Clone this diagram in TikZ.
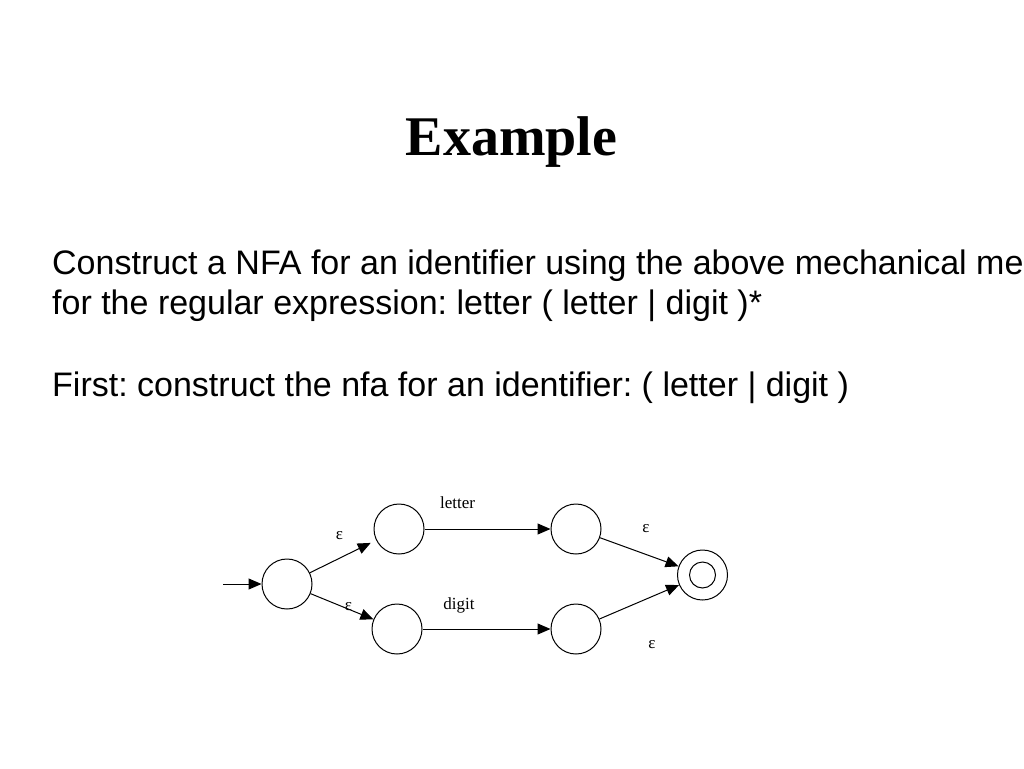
\documentclass[tikz,border=0pt]{standalone}
\usepackage{fontspec}
\setmainfont{Liberation Serif}
\newfontfamily\arialfont{Liberation Sans}
\usetikzlibrary{arrows.meta}
\frenchspacing
\begin{document}
\begin{tikzpicture}[x=1pt,y=-1pt,
  state/.style={circle,draw,line width=1pt,minimum size=50pt,inner sep=0pt},
  edge/.style={-{Triangle[length=13pt,width=11pt]},line width=1pt},
  lbl/.style={font=\fontsize{17}{17}\selectfont,inner sep=0pt},
  body/.style={font=\arialfont\fontsize{34}{40}\selectfont,anchor=base west,inner sep=0pt}]
\useasboundingbox (0,0) rectangle (1024,768);
\clip (0,0) rectangle (1024,768);
\fill[white] (0,0) rectangle (1024,768);
\node[font=\bfseries\fontsize{56}{60}\selectfont,anchor=base,inner sep=0pt] (title) at (511.5,155) {Example};
\node[body] (l1) at (52,274) {Construct a NFA for an identifier using the above mechanical me};
\node[body] (l2) at (52,314) {for the regular expression: letter ( letter | digit )*};
\node[body] (l3) at (52,396) {First: construct the nfa for an identifier: ( letter | digit )};
% states
\node[state] (s0) at (287,584) {};
\node[state] (u1) at (399,529) {};
\node[state] (u2) at (576,529) {};
\node[state] (d1) at (397,629) {};
\node[state] (d2) at (576,629) {};
\node[state] (f) at (702.5,575) {};
\draw[line width=1pt] (f.center) circle (13);
\coordinate (init) at (223,584);
% edges
\draw[edge] (init) -- (s0);
\draw[edge,shorten >=6pt] (s0) -- (u1);
\draw[edge] (s0) -- (d1);
\draw[edge] (u1) -- (u2);
\draw[edge] (d1) -- (d2);
\draw[edge] (u2) -- (f);
\draw[edge] (d2) -- (f);
% labels
\node[lbl] (la) at (457.6,503) {letter};
\node[lbl] (lb) at (459,605) {digit};
\node[lbl] (e1) at (339.5,536) {ε};
\node[lbl] (e2) at (348.5,607) {ε};
\node[lbl] (e3) at (646,529) {ε};
\node[lbl] (e4) at (652,645) {ε};
\end{tikzpicture}
\end{document}
